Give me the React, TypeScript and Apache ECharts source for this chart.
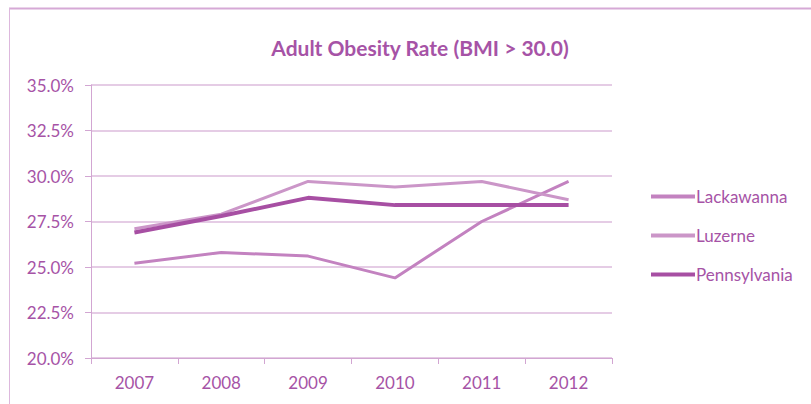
import React, { useEffect, useRef } from "react";
import * as echarts from "echarts";

const years = ["2007", "2008", "2009", "2010", "2011", "2012"];
const lackawanna = [25.2, 25.8, 25.6, 24.4, 27.5, 29.7];
const luzerne = [27.1, 27.9, 29.7, 29.4, 29.7, 28.7];
const pennsylvania = [26.9, 27.8, 28.8, 28.4, 28.4, 28.4];

const FONT = "Lato, 'Open Sans', sans-serif";
const TEXT = "#A653A6";
const AXIS = "#D2A6D2";

export default function App() {
  const ref = useRef<HTMLDivElement>(null);

  useEffect(() => {
    if (!ref.current) return;
    const chart = echarts.init(ref.current, null, { renderer: "svg" });
    const series = [
      { name: "Lackawanna", data: lackawanna, color: "#C382C0", width: 3 },
      { name: "Luzerne", data: luzerne, color: "#CB96C8", width: 3 },
      { name: "Pennsylvania", data: pennsylvania, color: "#A74FA3", width: 4 },
    ];
    chart.setOption({
      animation: false,
      backgroundColor: "#ffffff",
      graphic: [
        {
          type: "line",
          shape: { x1: 9, y1: 8.5, x2: 811, y2: 8.5 },
          style: { stroke: "#D6A9D6", lineWidth: 2 },
        },
        {
          type: "line",
          shape: { x1: 9.5, y1: 8, x2: 9.5, y2: 404 },
          style: { stroke: "#DDB8DD", lineWidth: 1 },
        },
      ],
      title: {
        text: "Adult Obesity Rate (BMI > 30.0)",
        left: 415,
        top: 32,
        textAlign: "center",
        textStyle: { fontFamily: FONT, fontSize: 21, fontWeight: "bold", color: TEXT },
      },
      legend: {
        orient: "vertical",
        left: 646,
        top: 183,
        itemGap: 22,
        itemWidth: 44,
        itemHeight: 4,
        icon: "rect",
        textStyle: { fontFamily: FONT, fontSize: 17, color: TEXT, padding: [0, 0, 0, -4] },
        data: series.map((s) => s.name),
      },
      grid: { left: 91, right: 199, top: 85, bottom: 46 },
      xAxis: {
        type: "category",
        data: years,
        boundaryGap: true,
        axisLine: { lineStyle: { color: AXIS, width: 1 } },
        axisTick: { show: true, length: 6, lineStyle: { color: AXIS } },
        axisLabel: { fontFamily: FONT, fontSize: 17, color: TEXT, margin: 16 },
      },
      yAxis: {
        type: "value",
        min: 20,
        max: 35,
        interval: 2.5,
        axisLine: { show: true, lineStyle: { color: AXIS, width: 1 } },
        axisTick: { show: true, length: 6, lineStyle: { color: AXIS } },
        axisLabel: {
          fontFamily: FONT,
          fontSize: 17,
          color: TEXT,
          margin: 17,
          formatter: (v: number) => v.toFixed(1) + "%",
        },
        splitLine: { lineStyle: { color: "#DDBBDD", width: 1.5 } },
      },
      series: series.map((s) => ({
        name: s.name,
        type: "line",
        data: s.data,
        symbol: "none",
        color: s.color,
        lineStyle: { color: s.color, width: s.width },
      })),
    });
    return () => chart.dispose();
  }, []);

  return <div ref={ref} style={{ width: 811, height: 404, position: "absolute", left: 0, top: 0 }} />;
}
